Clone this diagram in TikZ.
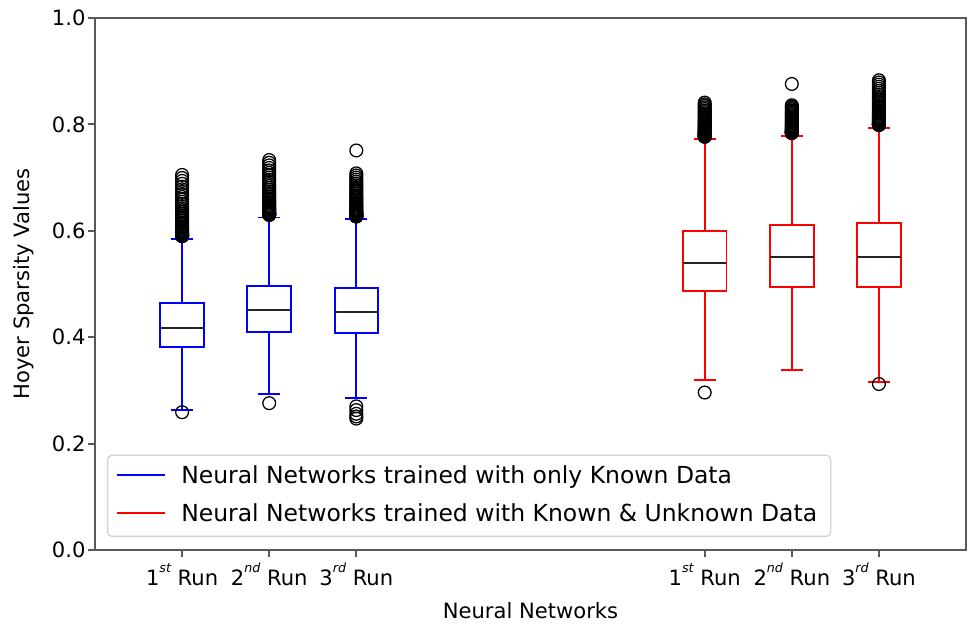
\documentclass[tikz,border=0pt]{standalone}
\usepackage{fontspec}
\setmainfont{DejaVu Sans}
\usetikzlibrary{positioning}
\definecolor{legendgray}{gray}{0.82}
\definecolor{spinegray}{gray}{0.35}

\begin{document}
\begin{tikzpicture}[every node/.style={font=\fontsize{15}{18}\selectfont, inner sep=0pt},
  spine/.style={draw=spinegray, line width=1.4pt},
  boxline/.style={line width=1.4pt},
  medianline/.style={draw=black!85, line width=1.4pt},
  outlier/.style={draw=black, line width=0.9pt},
  legendtext/.style={anchor=base west, font=\fontsize{16.7}{20}\selectfont}]
\fill[white] (0,0) rectangle (24.25,15.675);
\useasboundingbox (0,0) rectangle (24.25,15.675);
\node[rotate=90] (ylabel) at (0.6,8.575) {Hoyer Sparsity Values};
\begin{scope}[shift={(2.375,1.925)}, x=2.1775cm, y=13.3cm]
\draw[spine] (0,0) rectangle (10,1);
\foreach \v [count=\i] in {0.0,0.2,0.4,0.6,0.8,1.0} {
  \draw[spine] (0,\v) -- ++(-0.17cm,0);
  \node[anchor=east] (ytick\i) at ([xshift=-0.23cm]0,\v) {\v};
}
\foreach \p/\n/\s [count=\i] in {1/1/st, 2/2/nd, 3/3/rd, 7/1/st, 8/2/nd, 9/3/rd} {
  \draw[spine] (\p,0) -- ++(0,-0.17cm);
  \node[anchor=base] (xtick\i) at ([yshift=-0.9cm]\p,0) {\n\raisebox{0.62em}{\fontsize{9}{10}\selectfont\itshape\s} Run};
}
\node[anchor=base] (xlabel) at ([yshift=-1.7cm]5,0) {Neural Networks};
\foreach \p/\lw/\qa/\med/\qb/\uw/\col in {1/0.264/0.381/0.418/0.464/0.585/blue,
    2/0.293/0.410/0.452/0.496/0.625/blue, 3/0.286/0.407/0.448/0.492/0.622/blue,
    7/0.320/0.486/0.540/0.600/0.772/red, 8/0.338/0.494/0.550/0.611/0.779/red,
    9/0.316/0.494/0.550/0.614/0.794/red} {
  \draw[boxline, draw=\col] (\p,\lw) -- (\p,\qa) (\p,\qb) -- (\p,\uw);
  \draw[boxline, draw=\col] (\p-0.125,\lw) -- (\p+0.125,\lw) (\p-0.125,\uw) -- (\p+0.125,\uw);
  \draw[boxline, draw=\col] (\p-0.25,\qa) rectangle (\p+0.25,\qb);
  \draw[medianline] (\p-0.25,\med) -- (\p+0.25,\med);
}
\foreach \p/\a/\b in {1/0.590/0.705, 2/0.630/0.733, 3/0.627/0.708, 7/0.777/0.841,
    8/0.784/0.836, 9/0.799/0.883} {
  \foreach \k in {0,...,40} {
    \pgfmathsetmacro\v{\a+(\b-\a)*(\k/40)^2}
    \draw[outlier] (\p,\v) circle[radius=0.16cm];
  }
}
\foreach \p/\v in {1/0.259, 2/0.276, 3/0.751, 7/0.296, 8/0.876, 9/0.312,
    3/0.270, 3/0.263, 3/0.256, 3/0.251, 3/0.247} {
  \draw[outlier] (\p,\v) circle[radius=0.16cm];
}
\end{scope}
\node[draw=legendgray, fill=white, line width=0.9pt, rounded corners=3pt, minimum width=18.075cm, minimum height=2.025cm, anchor=south west] (legend) at (2.675,2.25) {};
\draw[boxline, blue] (2.925,3.8) -- (4.125,3.8);
\node[legendtext] (knownlabel) at (4.525,3.59) {Neural Networks trained with only Known Data};
\draw[boxline, red] (2.925,2.85) -- (4.125,2.85);
\node[legendtext] (unknownlabel) at (4.525,2.64) {Neural Networks trained with Known \& Unknown Data};
\end{tikzpicture}
\end{document}
